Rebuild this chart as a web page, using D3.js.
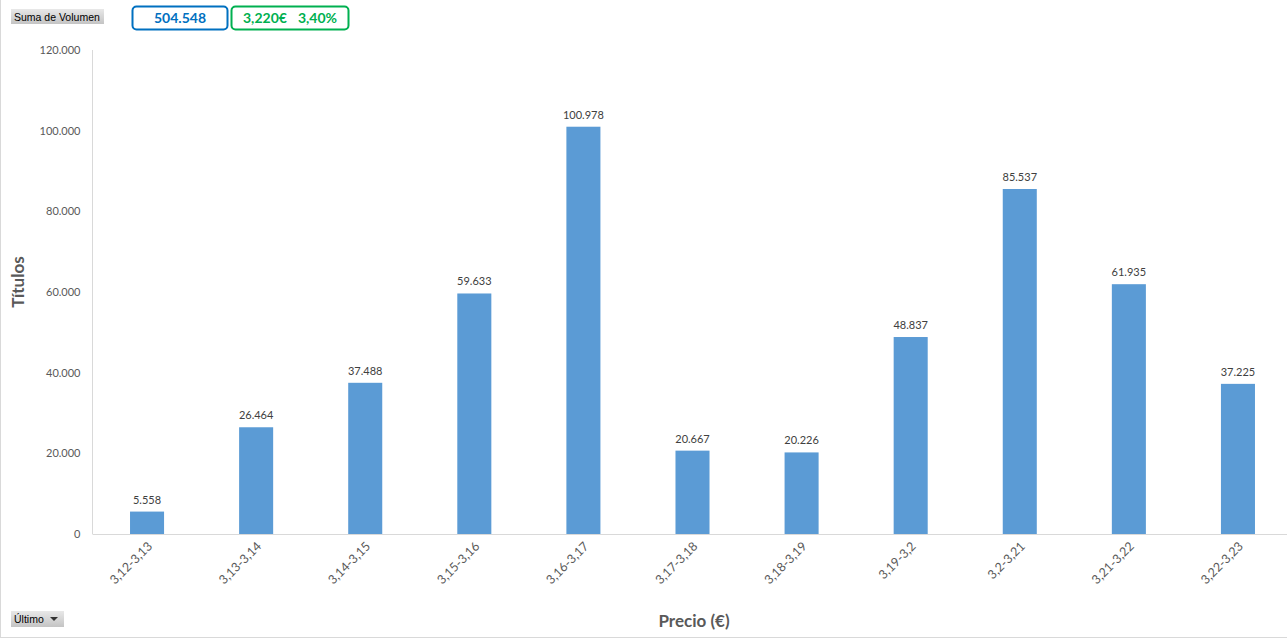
<!DOCTYPE html>
<html><head><meta charset="utf-8">
<script src="https://cdn.jsdelivr.net/npm/d3@7"></script>
<style>body{margin:0;background:#fff;}svg{display:block;}</style>
</head><body>
<svg id="c" width="1287" height="639"></svg>
<script>
const categories = ["3,12-3,13","3,13-3,14","3,14-3,15","3,15-3,16","3,16-3,17","3,17-3,18","3,18-3,19","3,19-3,2","3,2-3,21","3,21-3,22","3,22-3,23"];
const values = [5558,26464,37488,59633,100978,20667,20226,48837,85537,61935,37225];
const yTicks = [0,20000,40000,60000,80000,100000,120000];
const totalLabel = "504.548";
const priceLabel = "3,220€";
const changeLabel = "3,40%";

const svg = d3.select("#c");
const font = "Lato, 'Open Sans', sans-serif";
const fmt = v => d3.format(",")(v).replace(/,/g, ".");

const x = d3.scaleBand().domain(categories).range([92.5, 1292.5]).paddingInner(0.688).paddingOuter(0.344);
const y = d3.scaleLinear().domain([0, 120000]).range([534, 50]);

// outer border
svg.append("line").attr("x1",0.5).attr("x2",0.5).attr("y1",0).attr("y2",637).attr("stroke","#d9d9d9");
svg.append("line").attr("x1",0).attr("x2",1287).attr("y1",637.5).attr("y2",637.5).attr("stroke","#d9d9d9");

// y axis
const ya = svg.append("g").attr("transform","translate(92.5,0)")
  .call(d3.axisLeft(y).tickValues(yTicks).tickSize(0).tickPadding(12).tickFormat(fmt));
ya.select(".domain").attr("stroke","#d9d9d9").attr("d","M0,50V534");
ya.selectAll("text").attr("font-family",font).attr("font-size",11).attr("fill","#595959");

// bars
svg.append("g").selectAll("rect").data(values).join("rect")
  .attr("x",(d,i)=>x(categories[i])).attr("width",x.bandwidth())
  .attr("y",d=>y(d)).attr("height",d=>y(0)-y(d)).attr("fill","#5b9bd5");

// value labels
svg.append("g").selectAll("text").data(values).join("text")
  .attr("x",(d,i)=>x(categories[i])+x.bandwidth()/2).attr("y",d=>y(d)-8)
  .attr("text-anchor","middle").attr("font-family",font).attr("font-size",11).attr("fill","#404040")
  .text(fmt);

// x axis
const xa = svg.append("g").attr("transform","translate(0,534)")
  .call(d3.axisBottom(x).tickSize(0).tickSizeOuter(0));
xa.select(".domain").attr("stroke","#d9d9d9").attr("d","M92.5,0.5H1287");
xa.selectAll("text").attr("font-family",font).attr("font-size",12.5).attr("fill","#595959")
  .attr("text-anchor","end").attr("dy",0).attr("y",0)
  .attr("transform","translate(6,13) rotate(-45)");

// axis titles
svg.append("text").attr("transform","translate(24,282) rotate(-90)").attr("text-anchor","middle")
  .attr("font-family",font).attr("font-weight","bold").attr("font-size",17).attr("fill","#595959").text("Títulos");
svg.append("text").attr("x",694).attr("y",627).attr("text-anchor","middle")
  .attr("font-family",font).attr("font-weight","bold").attr("font-size",17).attr("fill","#595959").text("Precio (€)");

// field buttons
const defs = svg.append("defs");
const g = defs.append("linearGradient").attr("id","btn").attr("x1",0).attr("x2",0).attr("y1",0).attr("y2",1);
g.append("stop").attr("offset","0%").attr("stop-color","#e8e8e8");
g.append("stop").attr("offset","100%").attr("stop-color","#c4c4c4");
svg.append("rect").attr("x",11).attr("y",9).attr("width",93).attr("height",15).attr("fill","url(#btn)");
svg.append("text").attr("x",14).attr("y",20.5).attr("font-family","'Liberation Sans', sans-serif").attr("font-size",10.5).attr("fill","#000").text("Suma de Volumen");
svg.append("rect").attr("x",11).attr("y",611).attr("width",53).attr("height",16).attr("fill","url(#btn)");
svg.append("text").attr("x",14).attr("y",623).attr("font-family","'Liberation Sans', sans-serif").attr("font-size",10.5).attr("fill","#000").text("Último");
svg.append("path").attr("d","M50,617h8l-4,4z").attr("fill","#333");

// KPI boxes
svg.append("rect").attr("x",132.5).attr("y",6.5).attr("width",95).attr("height",23).attr("rx",4)
  .attr("fill","#fff").attr("stroke","#0070c0").attr("stroke-width",2);
svg.append("text").attr("x",180).attr("y",23).attr("text-anchor","middle").attr("font-family",font)
  .attr("font-weight","bold").attr("font-size",14).attr("fill","#0070c0").text(totalLabel);
svg.append("rect").attr("x",231.5).attr("y",6.5).attr("width",117).attr("height",23).attr("rx",4)
  .attr("fill","#fff").attr("stroke","#00b050").attr("stroke-width",2);
svg.append("text").attr("x",243).attr("y",23).attr("font-family",font)
  .attr("font-weight","bold").attr("font-size",14).attr("fill","#00b050").text(priceLabel);
svg.append("text").attr("x",337).attr("y",23).attr("text-anchor","end").attr("font-family",font)
  .attr("font-weight","bold").attr("font-size",14).attr("fill","#00b050").text(changeLabel);
</script>
</body></html>
